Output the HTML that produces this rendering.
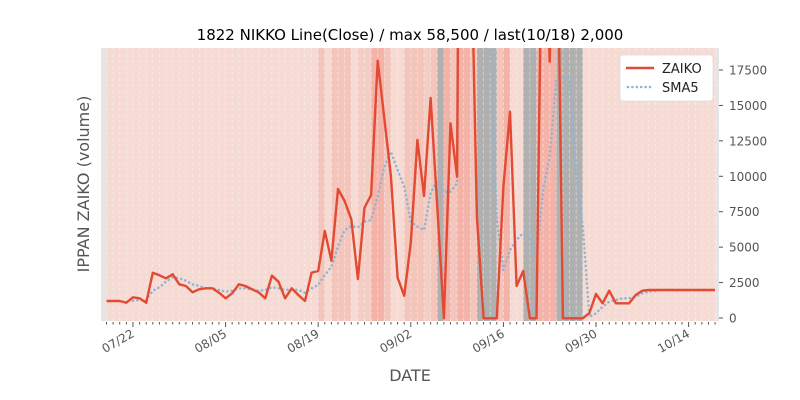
<!DOCTYPE html>
<html><head><meta charset="utf-8">
<style>
html,body{margin:0;padding:0;background:#fff;}
svg{display:block;font-family:"DejaVu Sans","Liberation Sans",sans-serif;}
</style></head>
<body>
<svg id="s" width="800" height="400" xmlns="http://www.w3.org/2000/svg">
<defs><clipPath id="c"><rect x="101" y="48" width="618" height="273"/></clipPath></defs>
<rect x="101" y="48" width="618" height="273" fill="#e5e5e5"/>
<g id="bands"></g>
<g id="grid"></g>
<g clip-path="url(#c)">
<polyline id="sma" fill="none" stroke="#8fb5d2" stroke-width="2.6" stroke-dasharray="0.01,4.4" stroke-linecap="round"/>
<polyline id="zk" fill="none" stroke="#e24a33" stroke-width="2.4" stroke-linejoin="round"/>
</g>
<g id="ticks" stroke="#555" stroke-width="1"></g>
<g id="labels" font-size="12" fill="#555"></g>
<text x="410" y="40" font-size="15" text-anchor="middle" fill="#000">1822 NIKKO Line(Close) / max 58,500 / last(10/18) 2,000</text>
<text x="410" y="381" font-size="16" text-anchor="middle" fill="#555">DATE</text>
<text transform="translate(89,184) rotate(-90)" font-size="16" text-anchor="middle" fill="#555">IPPAN ZAIKO (volume)</text>
<rect x="620" y="55" width="93" height="46" rx="3" fill="#fff" stroke="#ddd" stroke-width="0.8"/>
<line x1="626" y1="68" x2="654" y2="68" stroke="#e24a33" stroke-width="2.4"/>
<text x="662" y="73" font-size="13" fill="#222">ZAIKO</text>
<line x1="628" y1="87" x2="654" y2="87" stroke="#8fb5d2" stroke-width="2.6" stroke-dasharray="0.01,4.4" stroke-linecap="round"/>
<text x="662" y="92" font-size="13" fill="#222">SMA5</text>
</svg>
<script>
var ns="http://www.w3.org/2000/svg";
function X(i){return 106.5+6.615*i;}
function el(p,t,a){var e=document.createElementNS(ns,t);for(var k in a)e.setAttribute(k,a[k]);p.appendChild(e);return e;}
var z=[301,301,301,302.7,297.3,298.3,302.7,272.7,275.3,278.3,274.3,284.3,286,292.3,289.3,288.3,288.3,292.7,298.3,293.3,284.3,286,289.3,292.3,298.3,275.7,281.7,298.3,288.3,295,301,272.7,271,231,260.7,189,201,219.3,279,207.7,195,60.7,118.3,176,277.7,295.7,242.7,140,196,98,207,318.3,123.3,176.7,-1000,-102,216.7,318.3,318.3,318.3,186.7,111.7,286,271,318.3,318.3,-168,61.7,-169,318.3,318.3,318.3,318.3,313,294,303.3,290.7,303.3,303.3,303.3,295,290.7];
while(z.length<93)z.push(290);
var s={4:300.7,5:300,6:300,7:290.7,8:287.3,9:281.7,10:277.3,11:278.3,12:280.7,13:284.3,14:286,15:288.3,16:288.3,17:290,18:291.7,19:290.7,20:288.3,21:288.3,22:289.3,23:290.7,24:290,25:287.3,26:288.3,27:290,28:289.3,29:290,30:292.7,31:288.3,32:285,33:275,34:266.7,35:246.7,36:230,37:226,38:227.3,39:221.7,40:220,41:196.7,42:166.7,43:151.7,44:170,45:186.7,46:221.7,47:226.7,48:230,49:193.3,50:180,51:191.7,52:191.7,53:183.3,54:-600,55:-600,56:-600,57:-600,58:45,59:220,60:270,61:250,62:240,63:233,64:236.7,65:258.3,66:190,67:156.7,68:80,69:78.3,70:78.3,71:176.7,72:226.7,73:316.7,74:313.3,75:306.7,76:301.7,77:300,78:298.3,79:298.3,80:296.7,81:293.3,82:291.7,83:290.7};
for(var i=84;i<93;i++)s[i]=290;
var p=[];for(i=0;i<93;i++)p.push(X(i).toFixed(1)+","+z[i]);
document.getElementById("zk").setAttribute("points",p.join(" "));
p=[];for(i=4;i<93;i++)p.push(X(i).toFixed(1)+","+s[i]);
document.getElementById("sma").setAttribute("points",p.join(" "));
var C={L:"#f5dbd3",M:"#f4c5bb",N:"#f4cec5",D:"#f4b3a9",G:"#b0b0b0"};
var code={32:"M",34:"M",35:"M",36:"M",38:"N",39:"N",40:"D",41:"D",42:"M",45:"M",46:"M",47:"M",48:"N",49:"M",50:"G",51:"D",52:"M",53:"D",54:"D",55:"M",56:"G",57:"G",58:"G",59:"M",60:"D",63:"G",64:"G",65:"D",66:"D",67:"D",68:"G",69:"G",70:"G",71:"G"};
var b=document.getElementById("bands");
for(i=0;i<92;i++){el(b,"rect",{x:X(i),y:48,width:6.7,height:273,fill:C[code[i]||"L"]});}
var g=document.getElementById("grid"),t=document.getElementById("ticks"),l=document.getElementById("labels");
for(i=0;i<93;i++){el(g,"line",{x1:X(i),y1:48,x2:X(i),y2:321,stroke:"#fff","stroke-width":0.8,"stroke-dasharray":"3,3",opacity:0.5});
var maj=(i-4)%14==0;el(t,"line",{x1:X(i),y1:322,x2:X(i),y2:maj?327:324.5});}
var names=["07/22","08/05","08/19","09/02","09/16","09/30","10/14"];
for(var k=0;k<7;k++){var x=X(4+14*k);var e=el(l,"text",{transform:"translate("+(x+2)+",336) rotate(-30)","text-anchor":"end"});e.textContent=names[k];}
for(k=0;k<=7;k++){var v=k*2500;var y=318-v*0.014171;el(t,"line",{x1:719,y1:y,x2:723,y2:y});var e2=el(l,"text",{x:729,y:y+4.5});e2.textContent=v;}
</script>
</body></html>
